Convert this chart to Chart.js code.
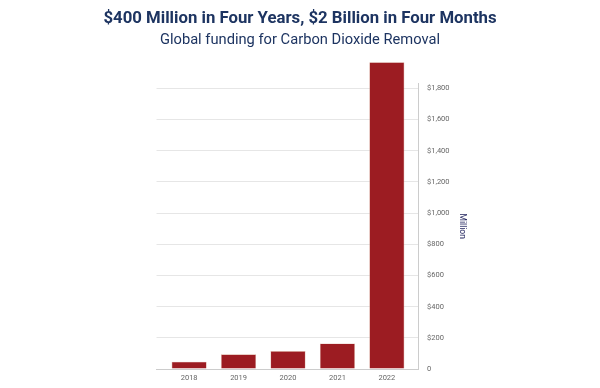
<!DOCTYPE html>
<html>
<head>
<meta charset="utf-8">
<script src="https://cdn.jsdelivr.net/npm/chart.js@4.4.1/dist/chart.umd.min.js"></script>
<style>
html,body{margin:0;padding:0;background:#fff;}
#wrap{width:600px;height:388px;}
</style>
</head>
<body>
<div id="wrap"><canvas id="c" width="600" height="388"></canvas></div>
<script>
const categories = ["2018", "2019", "2020", "2021", "2022"];
const funding = [47, 94, 115, 164, 1968];
const yTickValues = [0, 200, 400, 600, 800, 1000, 1200, 1400, 1600, 1800];
const titleText = "$400 Million in Four Years, $2 Billion in Four Months";
const subtitleText = "Global funding for Carbon Dioxide Removal";
const yAxisTitle = "Million";

const points = funding.map((v, i) => ({x: i, y: v}));

const spacer = (pos, w, weight) => ({
  type: 'linear',
  position: pos,
  weight: weight,
  display: true,
  afterFit: (s) => { s.width = w; },
  ticks: { display: false },
  grid: { display: false, drawTicks: false },
  border: { display: false }
});

new Chart(document.getElementById('c'), {
  type: 'bar',
  data: {
    datasets: [{
      data: points,
      xAxisID: 'x',
      yAxisID: 'y',
      backgroundColor: '#9c1c22',
      borderColor: '#d9a99a',
      borderWidth: 0.6,
      categoryPercentage: 1,
      barPercentage: 0.71,
      clip: false
    }]
  },
  options: {
    responsive: false,
    animation: false,
    devicePixelRatio: 1,
    layout: { padding: { left: 0, right: 0, top: 0, bottom: 0 } },
    plugins: {
      legend: { display: false },
      tooltip: { enabled: false },
      title: {
        display: true,
        text: titleText,
        color: '#1d3461',
        font: { family: 'Roboto', size: 16.75, weight: 'bold', lineHeight: 1.2 },
        padding: { top: 9, bottom: 0 }
      },
      subtitle: {
        display: true,
        text: subtitleText,
        color: '#1d3461',
        font: { family: 'Roboto', size: 14.7, weight: 'normal', lineHeight: 1.2 },
        padding: { top: 2, bottom: 34.7 }
      }
    },
    scales: {
      x: {
        type: 'linear',
        offset: false,
        min: -0.66,
        max: 4.63,
        afterBuildTicks: (s) => { s.ticks = categories.map((c, i) => ({value: i})); },
        ticks: {
          callback: (v) => categories[v],
          color: '#666666',
          font: { family: 'Roboto', size: 7.5 },
          padding: 5,
          maxRotation: 0
        },
        grid: { display: false, drawTicks: false },
        border: { display: true, color: '#cccccc', width: 1 }
      },
      y: {
        position: 'right',
        weight: 0,
        min: 0,
        max: 1832,
        afterBuildTicks: (s) => { s.ticks = yTickValues.map(v => ({value: v})); },
        afterFit: (s) => { s.width = 60; },
        ticks: {
          callback: (v) => v === 0 ? '0' : '$' + v.toLocaleString('en-US'),
          color: '#666666',
          font: { family: 'Roboto', size: 7.5 },
          padding: 9
        },
        grid: { color: '#e6e6e6', drawTicks: false },
        border: { display: true, color: '#cccccc', width: 1 },
        title: {
          display: true,
          text: yAxisTitle,
          color: '#22245e',
          font: { family: 'Roboto', size: 8.5 },
          padding: { top: 11, bottom: 0 }
        }
      },
      padLeft: spacer('left', 156.5, 1),
      padRight: spacer('right', 122, 1)
    }
  }
});
</script>
</body>
</html>
